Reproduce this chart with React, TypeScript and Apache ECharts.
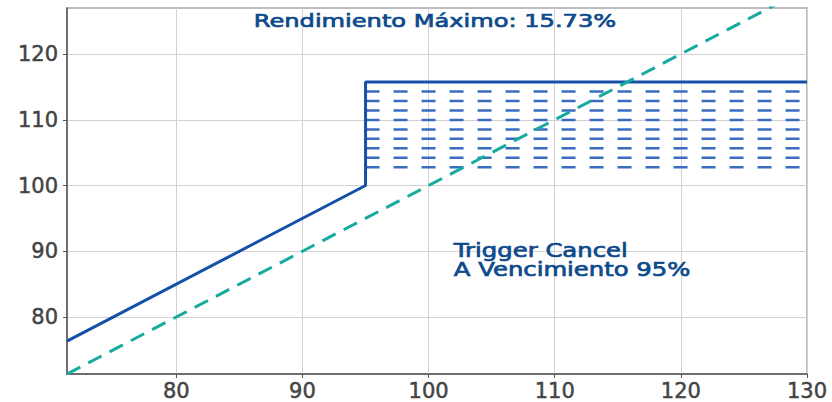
import React, { useEffect, useRef } from "react";
import * as echarts from "echarts";

// Axis extents and tick labels
const X_MIN = 71.33;
const X_MAX = 130;
const Y_MIN = 71.33;
const Y_MAX = 127;
const xTicks = [80, 90, 100, 110, 120, 130];
const yTicks = [80, 90, 100, 110, 120];

// Structured product payoff (solid blue)
const payoffX = [71.33, 95, 95, 130];
const payoffY = [76.33, 100, 115.73, 115.73];

// Underlying (dashed teal, y = x)
const underlyingX = [71.33, 130];
const underlyingY = [71.33, 130];

// Hatched region: [xStart, yLow, xEnd, yHigh]
const hatchRegion = [95, 100, 130, 115.73];

// Annotations
const titleText = "Rendimiento Máximo: 15.73%";
const noteLines = ["Trigger Cancel", "A Vencimiento 95%"];
const noteAnchor = [102, 88.6];

const BLUE = "#1450a8";
const HATCH = "#3a6cc0";
const TEAL = "#17aba0";
const TEXT = "#0d4a8c";

export default function App() {
  const ref = useRef<HTMLDivElement>(null);

  useEffect(() => {
    if (!ref.current) return;
    const chart = echarts.init(ref.current, null, { renderer: "svg" });

    const axisCommon = {
      type: "value" as const,
      minInterval: 10,
      maxInterval: 10,
      axisLine: { show: true, lineStyle: { color: "#555", width: 1.5 } },
      axisTick: { show: true, length: 4, lineStyle: { color: "#555", width: 1 } },
      splitLine: { show: true, lineStyle: { color: "#d2d2d2", width: 1 } },
    };

    const labelStyle = {
      fontFamily: "DejaVu Sans",
      fontSize: 21,
      color: "#444",
      textBorderColor: "#444",
      textBorderWidth: 0.5,
    };

    chart.setOption({
      animation: false,
      backgroundColor: "#ffffff",
      grid: {
        left: 67,
        right: 25,
        top: 8,
        bottom: 28,
        show: true,
        borderColor: "#a8a8a8",
        borderWidth: 1.5,
        containLabel: false,
      },
      xAxis: {
        ...axisCommon,
        min: X_MIN,
        max: X_MAX,
        axisTick: { ...axisCommon.axisTick, customValues: xTicks },
        axisLabel: { ...labelStyle, customValues: xTicks, margin: 6 },
      },
      yAxis: {
        ...axisCommon,
        min: Y_MIN,
        max: Y_MAX,
        axisTick: { ...axisCommon.axisTick, customValues: yTicks },
        axisLabel: { ...labelStyle, customValues: yTicks, margin: 9 },
      },
      series: [
        {
          type: "custom",
          name: "hatch",
          z: 1,
          data: [hatchRegion],
          encode: { x: [0, 2], y: [1, 3] },
          renderItem: (params: any, api: any) => {
            const tl = api.coord([api.value(0), api.value(3)]);
            const br = api.coord([api.value(2), api.value(1)]);
            const children: any[] = [];
            const step = 9.45;
            for (let y = tl[1] + 9.5; y < br[1] - 12; y += step) {
              children.push({
                type: "line",
                shape: { x1: tl[0], y1: y, x2: br[0], y2: y },
                style: { stroke: HATCH, lineWidth: 2.5, lineDash: [14, 14] },
              });
            }
            return { type: "group", children };
          },
        },
        {
          type: "line",
          name: "payoff",
          z: 2,
          data: payoffX.map((x, i) => [x, payoffY[i]]),
          symbol: "none",
          lineStyle: { color: BLUE, width: 3 },
        },
        {
          type: "line",
          name: "underlying",
          z: 3,
          data: underlyingX.map((x, i) => [x, underlyingY[i]]),
          symbol: "none",
          lineStyle: { color: TEAL, width: 3, type: [15, 9] },
        },
      ],
    });

    const topLeft = chart.convertToPixel({ gridIndex: 0 }, [X_MIN, Y_MAX]) as number[];
    const topRight = chart.convertToPixel({ gridIndex: 0 }, [X_MAX, Y_MAX]) as number[];
    const note = chart.convertToPixel({ gridIndex: 0 }, noteAnchor) as number[];

    chart.setOption({
      graphic: [
        {
          type: "text",
          x: (topLeft[0] + topRight[0]) / 2 - 2,
          y: topLeft[1] + 13,
          scaleX: 1.34,
          z: 10,
          style: {
            x: 0,
            y: 0,
            text: titleText,
            fontFamily: "DejaVu Sans",
            fontSize: 18,
            fill: TEXT,
            stroke: TEXT,
            lineWidth: 0.7,
            textAlign: "center",
            textVerticalAlign: "middle",
          },
        },
        {
          type: "text",
          x: note[0],
          y: note[1],
          scaleX: 1.28,
          z: 10,
          style: {
            x: 0,
            y: 0,
            text: noteLines.join("\n"),
            fontFamily: "DejaVu Sans",
            fontSize: 19,
            lineHeight: 19,
            fill: TEXT,
            stroke: TEXT,
            lineWidth: 0.7,
            textAlign: "left",
            textVerticalAlign: "middle",
          },
        },
      ],
    });

    return () => chart.dispose();
  }, []);

  return (
    <div
      ref={ref}
      style={{ position: "fixed", left: 0, top: 0, width: 832, height: 402 }}
    />
  );
}
